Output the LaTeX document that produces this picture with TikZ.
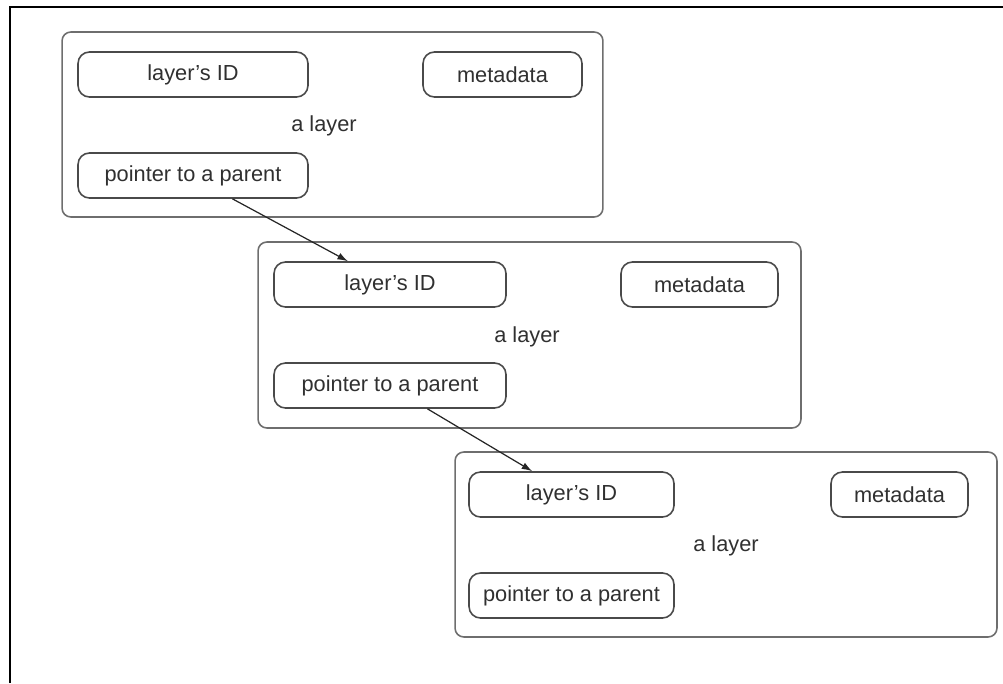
\documentclass[tikz,border=0pt]{standalone}
\usepackage{fontspec}
\setmainfont{Liberation Sans}
\usetikzlibrary{arrows.meta}
\usetikzlibrary{calc}

\definecolor{boxgray}{HTML}{6E6E6E}
\definecolor{fieldgray}{HTML}{4A4A4A}
\definecolor{textgray}{HTML}{303030}

\tikzset{
  layerbox/.style={draw=boxgray, line width=0.9pt, rounded corners=5pt, inner sep=0pt},
  fieldbox/.style={draw=fieldgray, line width=0.9pt, rounded corners=6.5pt, inner sep=0pt,
    minimum height=0.9cm, text=textgray, font=\fontsize{12.4}{14}\selectfont},
  layertext/.style={text=textgray, font=\fontsize{12.4}{14}\selectfont},
  parentarrow/.style={-{Latex[length=6pt,width=4pt]}, line width=0.7pt, black!85}
}

\begin{document}
\begin{tikzpicture}[x=0.02cm, y=-0.02cm]
        \useasboundingbox (0,0) rectangle (1003,683);
        \draw [line width=1.7pt] (10,683) -- (10,7) -- (1003,7);

        % first layer
        \node[layerbox, minimum width=10.82cm, minimum height=3.7cm] (layer1) at (332.5,124.5) {};
        \node[fieldbox, minimum width=4.6cm] (id1) at (193,74.5) {layer's ID};
        \node[fieldbox, minimum width=3.18cm] (meta1) at (502.5,74.5) {metadata};
        \node[fieldbox, minimum width=4.6cm] (ptr1) at (193,175.5) {pointer to a parent};
        \node[layertext] (name1) at (324,126) {a layer};

        % second layer
        \node[layerbox, minimum width=10.86cm, minimum height=3.72cm] (layer2) at (529.5,335) {};
        \node[fieldbox, minimum width=4.64cm] (id2) at (390,284.5) {layer's ID};
        \node[fieldbox, minimum width=3.14cm] (meta2) at (699.5,284.5) {metadata};
        \node[fieldbox, minimum width=4.64cm] (ptr2) at (390,385.5) {pointer to a parent};
        \node[layertext] (name2) at (527,337) {a layer};

        % third layer
        \node[layerbox, minimum width=10.84cm, minimum height=3.7cm] (layer3) at (726,544.5) {};
        \node[fieldbox, minimum width=4.1cm] (id3) at (571.5,494.5) {layer's ID};
        \node[fieldbox, minimum width=2.74cm] (meta3) at (899.5,494.5) {metadata};
        \node[fieldbox, minimum width=4.1cm] (ptr3) at (571.5,595.5) {pointer to a parent};
        \node[layertext] (name3) at (726,546) {a layer};

        \draw[parentarrow] ($(ptr1.south west)!0.67!(ptr1.south east)$) -- ($(id2.north west)!0.32!(id2.north east)$);
        \draw[parentarrow] ($(ptr2.south west)!0.66!(ptr2.south east)$) -- ($(id3.north west)!0.31!(id3.north east)$);
    \end{tikzpicture}
\end{document}
